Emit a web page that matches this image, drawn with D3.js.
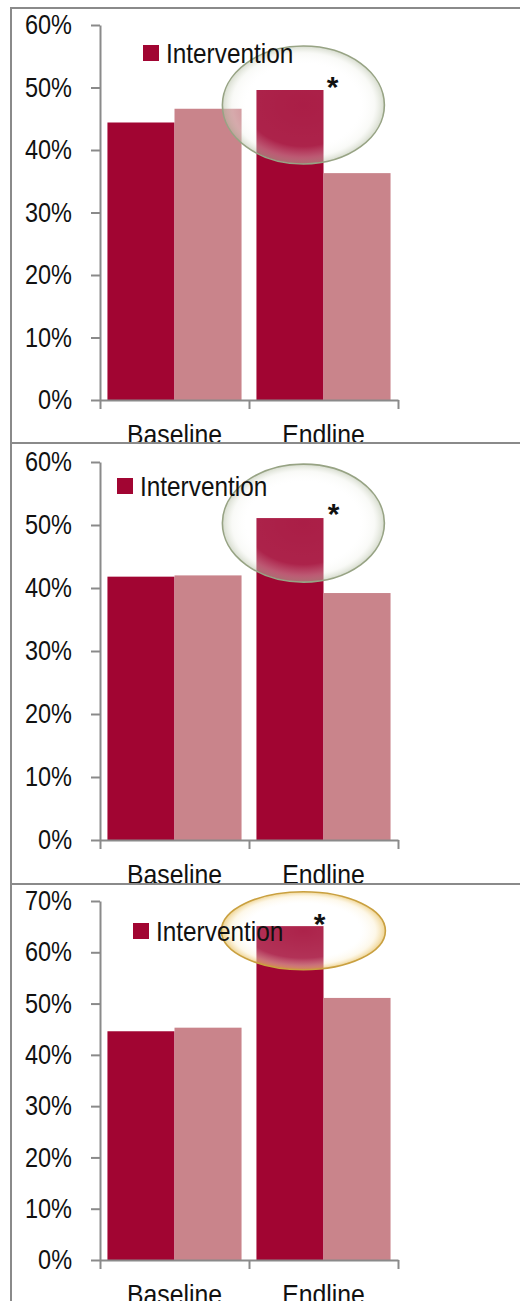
<!DOCTYPE html>
<html>
<head>
<meta charset="utf-8">
<script src="https://cdn.jsdelivr.net/npm/d3@7"></script>
<style>
  body { margin: 0; background: #fff; }
  svg { display: block; }
  text { font-family: "Liberation Sans", Arial, sans-serif; fill: #111; }
</style>
</head>
<body>
<svg id="chart" width="520" height="1301"></svg>
<script>
const categories = ['Baseline', 'Endline'];
const seriesNames = ['Intervention', 'Control'];

const panel1Intervention = [44.4, 49.6];
const panel1Control = [46.6, 36.3];
const panel2Intervention = [41.8, 51.1];
const panel2Control = [42.0, 39.2];
const panel3Intervention = [44.6, 65.1];
const panel3Control = [45.3, 51.1];

const ticksTo60 = [0, 10, 20, 30, 40, 50, 60];
const ticksTo70 = [0, 10, 20, 30, 40, 50, 60, 70];

const colors = { Intervention: '#a10532', Control: '#c9848b' };

// the picture uses a narrow font; squeeze Liberation Sans to get close
const squeeze = 0.87;

// layout of the three stacked panels
const panels = [
  { top: 8, bottom: 443, yTop: 25, yBottom: 400, max: 60, ticks: ticksTo60,
    interv: panel1Intervention, ctrl: panel1Control,
    legendX: 143, legendY: 45, ring: 'green', ringY: 47.2, rx: 81, ry: 59, starDx: 9, starDy: -10 },
  { top: 443, bottom: 884, yTop: 462, yBottom: 840, max: 60, ticks: ticksTo60,
    interv: panel2Intervention, ctrl: panel2Control,
    legendX: 117, legendY: 478, ring: 'green', ringY: 50.3, rx: 81, ry: 59, starDx: 10, starDy: -11 },
  { top: 884, bottom: 1301, yTop: 901, yBottom: 1260, max: 70, ticks: ticksTo70,
    interv: panel3Intervention, ctrl: panel3Control,
    legendX: 133, legendY: 923, ring: 'gold', ringY: 64.2, rx: 82, ry: 39, starDx: -4, starDy: -9 }
];

const svg = d3.select('#chart');
const defs = svg.append('defs');

function addStops(grad, stops) {
  stops.forEach(s => {
    grad.append('stop').attr('offset', s[0]).attr('stop-color', s[1]).attr('stop-opacity', s[2]);
  });
}

addStops(defs.append('radialGradient').attr('id', 'ring-green'), [
  ['0%', '#ffffff', 0.1],
  ['70%', '#ffffff', 0.12],
  ['88%', '#eef0e8', 0.35],
  ['100%', '#b4bea4', 0.55]
]);
addStops(defs.append('radialGradient').attr('id', 'ring-gold'), [
  ['0%', '#ffffff', 0.12],
  ['70%', '#ffffff', 0.18],
  ['88%', '#fbefcf', 0.45],
  ['100%', '#e8c060', 0.7]
]);

const x = d3.scaleBand()
  .domain(categories)
  .range([100, 398])
  .paddingInner(0.1)
  .paddingOuter(0.05);

const xSub = d3.scaleBand()
  .domain(seriesNames)
  .range([0, x.bandwidth()]);

// category boundary ticks (Excel style)
const xEdge = d3.scaleLinear().domain([0, categories.length]).range([100, 398]);

panels.forEach((p, i) => {
  const clipId = 'clip' + i;
  defs.append('clipPath').attr('id', clipId)
    .append('rect').attr('x', 0).attr('y', p.top).attr('width', 520).attr('height', p.bottom - p.top);

  const g = svg.append('g').attr('clip-path', `url(#${clipId})`);

  const y = d3.scaleLinear().domain([0, p.max]).range([p.yBottom, p.yTop]);

  const rows = categories.map((c, j) => ({ cat: c, Intervention: p.interv[j], Control: p.ctrl[j] }));

  g.selectAll('g.grp')
    .data(rows)
    .enter()
    .append('g')
    .attr('transform', d => `translate(${x(d.cat)},0)`)
    .selectAll('rect')
    .data(d => seriesNames.map(s => ({ s, v: d[s] })))
    .enter()
    .append('rect')
    .attr('x', d => xSub(d.s))
    .attr('width', xSub.bandwidth())
    .attr('y', d => y(d.v))
    .attr('height', d => y(0) - y(d.v))
    .attr('fill', d => colors[d.s]);

  // y axis
  const yAxis = g.append('g')
    .attr('transform', 'translate(100,0)')
    .call(d3.axisLeft(y).tickValues(p.ticks).tickFormat(d => d + '%').tickSize(9).tickSizeOuter(0).tickPadding(19));
  yAxis.selectAll('path, line').attr('stroke', '#8a8a8a').attr('stroke-width', 2);
  yAxis.selectAll('text')
    .attr('font-size', 27).attr('fill', '#111')
    .style('font-family', '"Liberation Sans", Arial, sans-serif')
    .attr('x', -28 / squeeze)
    .attr('transform', `scale(${squeeze},1)`);

  // x axis line and boundary ticks
  const xAxis = g.append('g')
    .attr('transform', `translate(0,${p.yBottom})`)
    .call(d3.axisBottom(xEdge).tickValues(d3.range(categories.length + 1)).tickFormat('').tickSize(9).tickSizeOuter(0));
  xAxis.selectAll('path, line').attr('stroke', '#8a8a8a').attr('stroke-width', 2);

  const xLabels = g.append('g')
    .attr('transform', `translate(0,${p.yBottom})`)
    .call(d3.axisBottom(x).tickSize(0).tickPadding(24));
  xLabels.select('.domain').remove();
  xLabels.selectAll('text')
    .attr('font-size', 28.5).attr('fill', '#111')
    .style('font-family', '"Liberation Sans", Arial, sans-serif')
    .attr('transform', `scale(${squeeze},1)`);

  // highlight ring around the endline intervention bar
  const barX = x('Endline') + xSub('Intervention');
  const barTop = y(p.interv[1]);
  g.append('ellipse')
    .attr('cx', barX + xSub.bandwidth() * 0.7)
    .attr('cy', y(p.ringY))
    .attr('rx', p.rx)
    .attr('ry', p.ry)
    .attr('fill', `url(#ring-${p.ring})`)
    .attr('stroke', p.ring === 'gold' ? '#c9a040' : '#97a384')
    .attr('stroke-width', 1.6);

  g.append('text')
    .attr('x', barX + xSub.bandwidth() + p.starDx)
    .attr('y', barTop + p.starDy + 17)
    .attr('text-anchor', 'middle')
    .attr('font-size', 30)
    .attr('font-weight', 'bold')
    .text('*');

  // legend (only the first series is visible in the picture)
  const leg = g.append('g').attr('transform', `translate(${p.legendX},${p.legendY})`);
  leg.append('rect').attr('width', 16).attr('height', 16).attr('fill', colors.Intervention);
  leg.append('text')
    .attr('x', 23 / squeeze)
    .attr('y', 17.5)
    .attr('font-size', 28)
    .attr('transform', `scale(${squeeze},1)`)
    .text(seriesNames[0]);
});

// frame and panel separators
const frame = svg.append('g').attr('stroke', '#8a8a8a').attr('stroke-width', 2);
frame.append('line').attr('x1', 10).attr('x2', 520).attr('y1', 8).attr('y2', 8);
frame.append('line').attr('x1', 11).attr('x2', 11).attr('y1', 8).attr('y2', 1301);
panels.slice(1).forEach(p => {
  frame.append('line').attr('x1', 10).attr('x2', 520).attr('y1', p.top).attr('y2', p.top);
});
</script>
</body>
</html>
